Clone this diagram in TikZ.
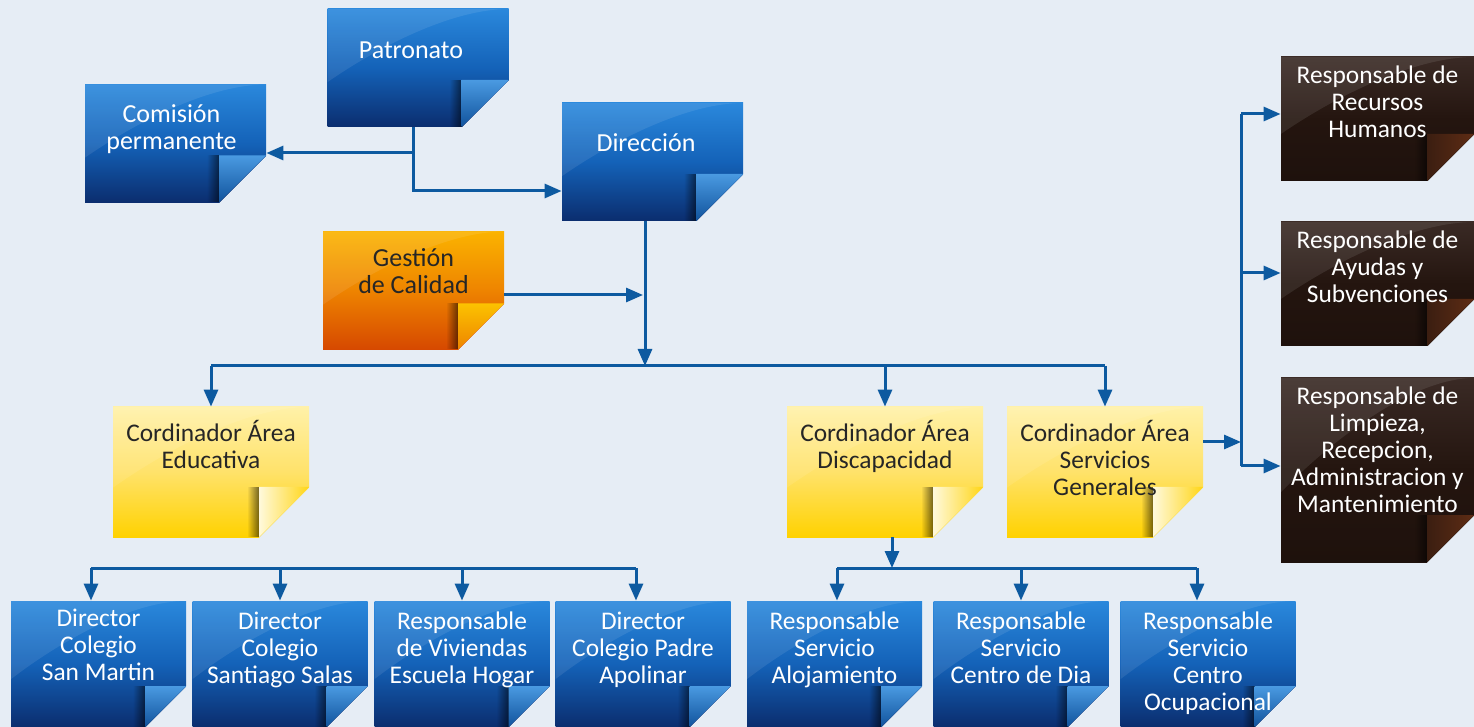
\documentclass[tikz,border=0pt]{standalone}
\usepackage{fontspec}
\setmainfont{Carlito}
\usetikzlibrary{arrows.meta,calc,fadings}

\definecolor{bg}{HTML}{E6EDF5}
\definecolor{linkblue}{HTML}{0D5AA0}
\definecolor{bluetop}{HTML}{2A88DC}
\definecolor{bluemid}{HTML}{1462B8}
\definecolor{bluebot}{HTML}{0B2D6E}
\definecolor{orangetop}{HTML}{FBB300}
\definecolor{orangemid}{HTML}{EE8400}
\definecolor{orangebot}{HTML}{D64800}
\definecolor{yellowtop}{HTML}{FFF1A8}
\definecolor{yellowmid}{HTML}{FFE26A}
\definecolor{yellowbot}{HTML}{FFD200}
\definecolor{browntop}{HTML}{3A2A25}
\definecolor{brownmid}{HTML}{24150F}
\definecolor{brownbot}{HTML}{1E110C}
\definecolor{copper}{HTML}{5E2C14}
\definecolor{darktext}{HTML}{262626}

\tikzfading[name=fadeleft, left color=transparent!100, right color=transparent!0]

\tikzset{
  fold/.store in=\notefold, fold=23.5pt,
  note/.style={inner sep=0pt, shade,
    path picture={
      \coordinate (nw) at (path picture bounding box.north west);
      \coordinate (ne) at (path picture bounding box.north east);
      \coordinate (sw) at (path picture bounding box.south west);
      \coordinate (se) at (path picture bounding box.south east);
      % gloss
      \fill[white, opacity=.09] (nw) -- ($(nw)!.62!(sw)$) .. controls ($(nw)!.3!(se)$) and ($(nw)!.7!(ne)$) .. (ne) -- cycle;
      % shadow under the flap
      \fill[black, opacity=.55, path fading=fadeleft] ([xshift=-\notefold-6pt]se) rectangle ([xshift=-\notefold, yshift=\notefold]se);
      % flap
      \shade[flapshade] ([xshift=-\notefold]se) -- ([xshift=-\notefold, yshift=\notefold]se) -- ([yshift=\notefold]se) -- cycle;
    }},
  bluenote/.style={note, top color=bluetop, bottom color=bluebot, middle color=bluemid,
    flapshade/.style={top color=bluetop!85!white, bottom color=bluemid!85!black}},
  orangenote/.style={note, top color=orangetop, bottom color=orangebot, middle color=orangemid,
    flapshade/.style={top color=orangetop!80!yellow, bottom color=orangemid}},
  yellownote/.style={note, top color=yellowtop, bottom color=yellowbot, middle color=yellowmid,
    flapshade/.style={left color=yellowtop!40!white, right color=yellowbot!80!yellowmid}},
  brownnote/.style={note, top color=browntop, bottom color=brownbot, middle color=brownmid,
    flapshade/.style={left color=brownmid!60!copper, right color=copper}},
  topsize/.style={minimum width=90.5pt, minimum height=59pt, fold=23.5pt},
  areasize/.style={minimum width=98pt, minimum height=65pt, fold=25pt},
  sidesize/.style={minimum width=96.5pt, minimum height=62pt, fold=23.5pt},
  unitsize/.style={minimum width=87.5pt, minimum height=63pt, fold=20.5pt},
  notetext/.style={align=center, inner sep=0pt, anchor=north, font=\fontsize{12.7}{13.5}\selectfont,
    execute at begin node={\rule{0pt}{11pt}}},
  bigtext/.style={font=\fontsize{13}{13.5}\selectfont},
  link/.style={draw=linkblue, line width=1.5pt, -{Triangle[length=8.5pt, width=7pt]}},
  bus/.style={draw=linkblue, line width=1.5pt}
}

\begin{document}
\begin{tikzpicture}[x=0.5pt, y=-0.5pt]
\fill[bg] (0,0) rectangle (1474,727);
\useasboundingbox (0,0) rectangle (1474,727);

% upper boxes
\node[bluenote, topsize] (patronato) at (418,68) {};
\node[bluenote, topsize] (comision) at (175.5,143.5) {};
\node[bluenote, topsize] (direccion) at (652.5,162) {};
\node[orangenote, topsize, fold=23pt] (gestion) at (413.5,290.5) {};

% area coordinators
\node[yellownote, areasize] (educativa) at (211,472) {};
\node[yellownote, areasize] (discapacidad) at (885,472) {};
\node[yellownote, areasize] (servicios) at (1105,472) {};

% right column
\node[brownnote, sidesize] (rrhh) at (1377.5,119) {};
\node[brownnote, sidesize] (ayudas) at (1377.5,284) {};
\node[brownnote, sidesize, minimum height=92pt] (limpieza) at (1377.5,470) {};

% bottom row
\node[bluenote, unitsize] (sanmartin) at (98.5,664) {};
\node[bluenote, unitsize] (santiago) at (280,664) {};
\node[bluenote, unitsize] (viviendas) at (462,664) {};
\node[bluenote, unitsize] (apolinar) at (643,664) {};
\node[bluenote, unitsize] (alojamiento) at (834.5,664) {};
\node[bluenote, unitsize] (centrodia) at (1021,664) {};
\node[bluenote, unitsize] (ocupacional) at (1208,664) {};

% folded corners
\foreach \n/\f in {patronato/23.5pt, comision/23.5pt, direccion/23.5pt, gestion/23pt,
    educativa/25pt, discapacidad/25pt, servicios/25pt, rrhh/23.5pt, ayudas/23.5pt, limpieza/23.5pt,
    sanmartin/20.5pt, santiago/20.5pt, viviendas/20.5pt, apolinar/20.5pt,
    alojamiento/20.5pt, centrodia/20.5pt, ocupacional/20.5pt}
  \fill[bg] ([xshift=.8pt, yshift=-.8pt]\n.south east) -- ([xshift=.8pt, yshift=\f+.8pt]\n.south east)
    -- ([xshift=-\f-.8pt, yshift=-.8pt]\n.south east) -- cycle;

% texts
\node[notetext, bigtext, text=white] (patronato-t) at ([xshift=-3.5pt, yshift=-14pt]patronato.north) {Patronato};
\node[notetext, bigtext, text=white] (comision-t) at ([xshift=-2pt, yshift=-10pt]comision.north) {Comisión\\permanente};
\node[notetext, bigtext, text=white] (direccion-t) at ([xshift=-3.25pt, yshift=-13.5pt]direccion.north) {Dirección};
\node[notetext, bigtext, text=darktext] (gestion-t) at ([yshift=-8.5pt]gestion.north) {Gestión\\de Calidad};

\node[notetext, text=darktext] (educativa-t) at ([yshift=-6.5pt]educativa.north) {Cordinador Área\\Educativa};
\node[notetext, text=darktext] (discapacidad-t) at ([yshift=-6.5pt]discapacidad.north) {Cordinador Área\\Discapacidad};
\node[notetext, text=darktext] (servicios-t) at ([yshift=-6.5pt]servicios.north) {Cordinador Área\\Servicios\\Generales};

\node[notetext, text=white] (rrhh-t) at ([yshift=-4.5pt]rrhh.north) {Responsable de\\Recursos\\Humanos};
\node[notetext, text=white] (ayudas-t) at ([yshift=-4.5pt]ayudas.north) {Responsable de\\Ayudas y\\Subvenciones};
\node[notetext, text=white] (limpieza-t) at ([yshift=-4.5pt]limpieza.north) {Responsable de\\Limpieza,\\Recepcion,\\Administracion y\\Mantenimiento};

\node[notetext, text=white] (sanmartin-t) at ([yshift=-4pt]sanmartin.north) {Director\\Colegio\\San Martin};
\node[notetext, text=white] (santiago-t) at ([yshift=-5.5pt]santiago.north) {Director\\Colegio\\Santiago Salas};
\node[notetext, text=white] (viviendas-t) at ([yshift=-5.5pt]viviendas.north) {Responsable\\de Viviendas\\Escuela Hogar};
\node[notetext, text=white] (apolinar-t) at ([yshift=-5.5pt]apolinar.north) {Director\\Colegio Padre\\Apolinar};
\node[notetext, text=white] (alojamiento-t) at ([yshift=-5.5pt]alojamiento.north) {Responsable\\Servicio\\Alojamiento};
\node[notetext, text=white] (centrodia-t) at ([yshift=-5.5pt]centrodia.north) {Responsable\\Servicio\\Centro de Dia};
\node[notetext, text=white] (ocupacional-t) at ([yshift=-5.5pt]ocupacional.north) {Responsable\\Servicio\\Centro\\Ocupacional};

% junction points
\coordinate (topbus) at (645,366);
\coordinate (leftbus) at (91,568);
\coordinate (rightbus) at (837,568);
\coordinate (spine) at (1241,300);

% connectors
\draw[link] ([xshift=-2.5pt]patronato.south) |- ([yshift=-4.75pt]comision.east);
\draw[link] ([xshift=-2.5pt]patronato.south) |- ([yshift=-14.5pt]direccion.west);
\draw[link] ([xshift=-3.75pt]direccion.south) -- (topbus);
\draw[link] ([yshift=-2.25pt]gestion.east) -- ([yshift=-2.25pt, xshift=-1pt]gestion.east -| topbus);

\draw[bus] (educativa.north |- topbus) -- (servicios.north |- topbus);
\draw[link] (educativa.north |- topbus) -- (educativa.north);
\draw[link] (discapacidad.north |- topbus) -- (discapacidad.north);
\draw[link] (servicios.north |- topbus) -- (servicios.north);

\draw[bus] (leftbus) -- ([xshift=-3.5pt]apolinar.north |- leftbus);
\draw[link] (leftbus) -- (leftbus |- sanmartin.north);
\draw[link] (santiago.north |- leftbus) -- (santiago.north);
\draw[link] (viviendas.north |- leftbus) -- (viviendas.north);
\draw[link] ([xshift=-3.5pt]apolinar.north |- leftbus) -- ([xshift=-3.5pt]apolinar.north);

\draw[link] ([xshift=3.5pt]discapacidad.south) -- ([xshift=3.5pt]discapacidad.south |- rightbus);
\draw[bus] (rightbus) -- ([xshift=-5.5pt]ocupacional.north |- rightbus);
\draw[link] (rightbus) -- (rightbus |- alojamiento.north);
\draw[link] (centrodia.north |- rightbus) -- (centrodia.north);
\draw[link] ([xshift=-5.5pt]ocupacional.north |- rightbus) -- ([xshift=-5.5pt]ocupacional.north);

\draw[link] ([yshift=15pt]servicios.east) -- ([yshift=15pt]servicios.east -| spine);
\draw[bus] ([yshift=2.5pt]rrhh.west -| spine) -- ([yshift=2pt]limpieza.west -| spine);
\draw[link] ([yshift=2.5pt]rrhh.west -| spine) -- ([yshift=2.5pt]rrhh.west);
\draw[link] ([yshift=5.5pt]ayudas.west -| spine) -- ([yshift=5.5pt]ayudas.west);
\draw[link] ([yshift=2pt]limpieza.west -| spine) -- ([yshift=2pt]limpieza.west);
\end{tikzpicture}
\end{document}
